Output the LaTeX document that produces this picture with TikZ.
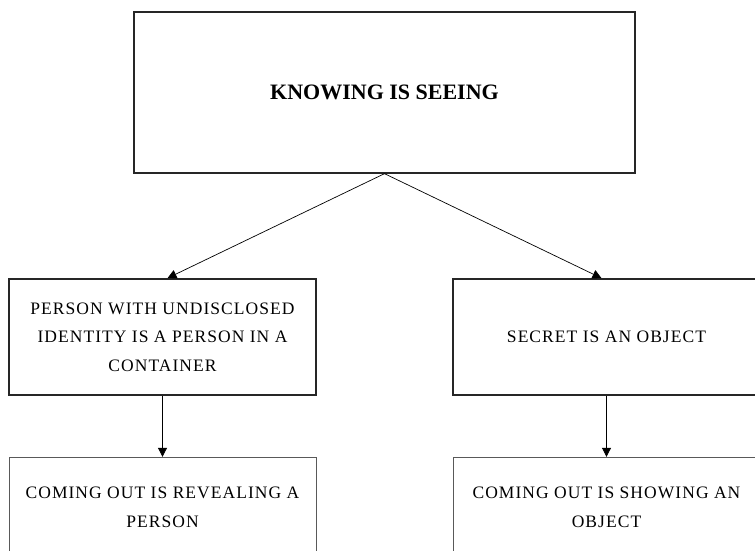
\documentclass[tikz,border=0pt]{standalone}
\usepackage{fontspec}
\setmainfont{Liberation Serif}
\newfontfamily\capsfont[LetterSpace=6]{Liberation Serif}
\usetikzlibrary{positioning,arrows.meta}

\tikzset{
  topbox/.style={draw=black!85, line width=1.3pt, minimum width=501pt,
    minimum height=161pt, font=\fontsize{22}{26}\selectfont\bfseries},
  midbox/.style={draw=black!85, line width=1.7pt, minimum width=307pt,
    minimum height=116pt, align=center,
    font=\capsfont\fontsize{17.5}{28.5}\selectfont},
  lowbox/.style={draw=black!65, line width=0.8pt, minimum width=307pt,
    minimum height=100pt, align=center,
    font=\capsfont\fontsize{17.5}{28.5}\selectfont},
  link/.style={-{Triangle[width=9pt,length=9pt]}, line width=0.7pt},
}

\begin{document}
\begin{tikzpicture}[x=1pt, y=-1pt]
  \clip (0,0) rectangle (755,551);
  % Nodes
  \node[topbox] (know) at (384.5,92.5) {KNOWING IS SEEING} ; %
  \node[midbox] (person) at (162.5,337) {PERSON WITH UNDISCLOSED\\
    IDENTITY IS A PERSON IN A\\ CONTAINER} ; %
  \node[midbox] (secret) at (606.5,337) {SECRET IS AN OBJECT} ; %
  \node[lowbox, below=61pt of person.south, anchor=north] (reveal)
    {COMING OUT IS REVEALING A\\ PERSON} ; %
  \node[lowbox, below=61pt of secret.south, anchor=north] (show)
    {COMING OUT IS SHOWING AN\\ OBJECT} ; %
  % Edges
  \draw[link] (know.south) -- ([xshift=5pt]person.north) ; %
  \draw[link] (know.south) -- ([xshift=-5pt]secret.north) ; %
  \draw[link] (person) -- (reveal) ; %
  \draw[link] (secret) -- (show) ; %
\end{tikzpicture}
\end{document}
